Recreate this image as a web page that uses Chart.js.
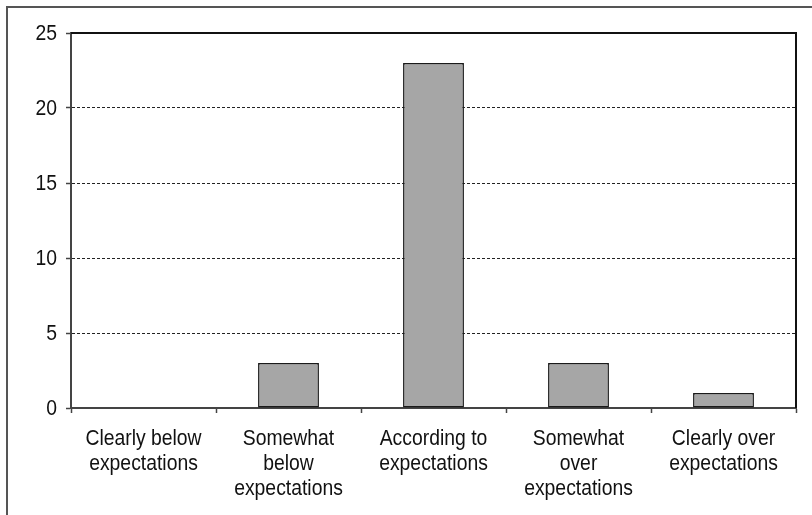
<!DOCTYPE html>
<html>
<head>
<meta charset="utf-8">
<script src="https://cdn.jsdelivr.net/npm/chart.js@4.4.1/dist/chart.umd.min.js"></script>
<style>
  html, body { margin: 0; padding: 0; background: #fff; }
  canvas { display: block; }
</style>
</head>
<body>
<canvas id="chart" width="812" height="515"></canvas>
<script>
const categories = [
  ["Clearly below", "expectations"],
  ["Somewhat", "below", "expectations"],
  ["According to", "expectations"],
  ["Somewhat", "over", "expectations"],
  ["Clearly over", "expectations"]
];
const counts = [0, 3, 23, 3, 1];
const yTicks = [0, 5, 10, 15, 20, 25];

// narrow look: regular sans squeezed horizontally
const FONT = "22px 'Liberation Sans', Arial, sans-serif";
const SQUEEZE = 0.88;
const LINE_H = 25;

function narrowText(c, txt, x, y, align) {
  c.save();
  c.translate(x, y);
  c.scale(SQUEEZE, 1);
  c.textAlign = align;
  c.textBaseline = "middle";
  c.fillText(txt, 0, 0);
  c.restore();
}

// outer frame, plot area edges and the tick labels
const frame = {
  id: "frame",
  beforeDraw(chart) {
    const c = chart.ctx;
    c.save();
    c.fillStyle = "#fff";
    c.fillRect(0, 0, chart.width, chart.height);
    c.strokeStyle = "#555";
    c.lineWidth = 2;
    c.strokeRect(7, 7, chart.width + 20, chart.height + 20);
    c.restore();
  },
  afterDatasetsDraw(chart) {
    const a = chart.chartArea;
    const c = chart.ctx;
    c.save();
    c.strokeStyle = "#111";
    c.lineWidth = 2;
    c.beginPath();
    c.moveTo(a.left, a.top);
    c.lineTo(a.right, a.top);
    c.lineTo(a.right, a.bottom);
    c.stroke();
    c.restore();
  },
  afterDraw(chart) {
    const c = chart.ctx;
    const xs = chart.scales.x;
    const ys = chart.scales.y;
    c.save();
    c.font = FONT;
    c.fillStyle = "#111";
    categories.forEach((lines, i) => {
      const x = xs.getPixelForTick(i);
      lines.forEach((ln, j) => {
        narrowText(c, ln, x, xs.top + 31 + j * LINE_H, "center");
      });
    });
    yTicks.forEach(v => {
      narrowText(c, String(v), ys.right - 14, ys.getPixelForValue(v) + 1, "right");
    });
    c.restore();
  }
};

new Chart(document.getElementById("chart"), {
  type: "bar",
  data: {
    labels: categories,
    datasets: [{
      data: counts,
      backgroundColor: "#a6a6a6",
      borderColor: "#1a1a1a",
      borderWidth: 1.5,
      borderSkipped: false,
      barPercentage: 0.42,
      categoryPercentage: 1
    }]
  },
  options: {
    responsive: false,
    animation: false,
    layout: { padding: { left: 0, top: 33, right: 16, bottom: 0 } },
    plugins: { legend: { display: false }, tooltip: { enabled: false } },
    scales: {
      x: {
        afterFit(s) { s.height = 107; },
        grid: {
          offset: true,
          drawOnChartArea: false,
          drawTicks: true,
          tickLength: 5,
          tickColor: "#444",
          tickWidth: 1.5
        },
        border: { color: "#444", width: 2 },
        ticks: { display: false, autoSkip: false }
      },
      y: {
        min: 0,
        max: 25,
        afterFit(s) { s.width = 71; },
        afterBuildTicks(s) { s.ticks = yTicks.map(v => ({ value: v })); },
        grid: {
          color: "#222",
          lineWidth: 1,
          tickBorderDash: [],
          tickLength: 5,
          tickColor: "#444",
          tickWidth: 1.5
        },
        border: { color: "#444", width: 2, dash: [3, 2] },
        ticks: { display: false }
      }
    }
  },
  plugins: [frame]
});
</script>
</body>
</html>
